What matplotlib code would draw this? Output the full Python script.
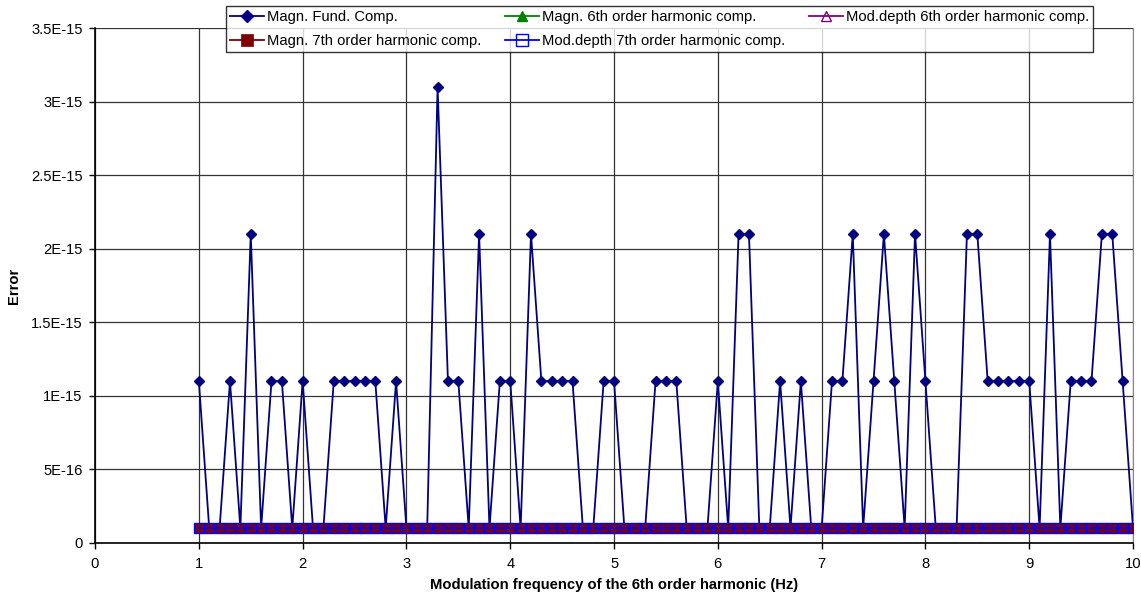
import matplotlib.pyplot as plt
from matplotlib.ticker import FixedLocator, FixedFormatter

plt.rcParams['font.family'] = ['Liberation Sans', 'DejaVu Sans']

# modulation frequency, 1.0 .. 10.0 Hz in 0.1 steps
freq = [round(1 + 0.1 * i, 1) for i in range(91)]

# error of the fundamental magnitude
fund = [
    1.1e-15, 1e-16, 1e-16, 1.1e-15, 1e-16, 2.1e-15, 1e-16, 1.1e-15, 1.1e-15, 1e-16,   # 1.0-1.9
    1.1e-15, 1e-16, 1e-16, 1.1e-15, 1.1e-15, 1.1e-15, 1.1e-15, 1.1e-15, 1e-16, 1.1e-15,  # 2.0-2.9
    1e-16, 1e-16, 1e-16, 3.1e-15, 1.1e-15, 1.1e-15, 1e-16, 2.1e-15, 1e-16, 1.1e-15,  # 3.0-3.9
    1.1e-15, 1e-16, 2.1e-15, 1.1e-15, 1.1e-15, 1.1e-15, 1.1e-15, 1e-16, 1e-16, 1.1e-15,  # 4.0-4.9
    1.1e-15, 1e-16, 1e-16, 1e-16, 1.1e-15, 1.1e-15, 1.1e-15, 1e-16, 1e-16, 1e-16,  # 5.0-5.9
    1.1e-15, 1e-16, 2.1e-15, 2.1e-15, 1e-16, 1e-16, 1.1e-15, 1e-16, 1.1e-15, 1e-16,  # 6.0-6.9
    1e-16, 1.1e-15, 1.1e-15, 2.1e-15, 1e-16, 1.1e-15, 2.1e-15, 1.1e-15, 1e-16, 2.1e-15,  # 7.0-7.9
    1.1e-15, 1e-16, 1e-16, 1e-16, 2.1e-15, 2.1e-15, 1.1e-15, 1.1e-15, 1.1e-15, 1.1e-15,  # 8.0-8.9
    1.1e-15, 1e-16, 2.1e-15, 1e-16, 1.1e-15, 1.1e-15, 1.1e-15, 2.1e-15, 2.1e-15, 1.1e-15,  # 9.0-9.9
    1e-16,  # 10.0
]
# the harmonic components all sit on the same floor
magn6 = [1e-16] * 91
moddepth6 = [1e-16] * 91
magn7 = [1e-16] * 91
moddepth7 = [1e-16] * 91

labels = ["Magn. Fund. Comp.", "Magn. 6th order harmonic comp.",
          "Mod.depth 6th order harmonic comp.", "Magn. 7th order harmonic comp.",
          "Mod.depth 7th order harmonic comp."]

y_ticks = [0, 5e-16, 1e-15, 1.5e-15, 2e-15, 2.5e-15, 3e-15, 3.5e-15]
y_tick_labels = ["0", "5E-16", "1E-15", "1.5E-15", "2E-15", "2.5E-15", "3E-15", "3.5E-15"]
x_ticks = list(range(0, 11))

fs = 10.6

fig = plt.figure(figsize=(11.41, 5.98), dpi=100)
ax = fig.add_axes([0.0833, 0.092, 0.9097, 0.861])

h_fund, = ax.plot(freq, fund, color='#000080', lw=1.3, marker='D', ms=5.5,
                  mfc='#000080', mec='#000080', zorder=3)
h_m6, = ax.plot(freq, magn6, color='#008000', lw=1.3, marker='^', ms=6,
                mfc='#008000', mec='#008000', zorder=4)
h_d6, = ax.plot(freq, moddepth6, color='#800080', lw=1.3, marker='^', ms=6,
                mfc='none', mec='#800080', zorder=5)
h_m7, = ax.plot(freq, magn7, color='#800000', lw=1.3, marker='s', ms=6.8,
                mfc='#800000', mec='#800000', mew=0.5, zorder=6)
h_d7, = ax.plot(freq, moddepth7, color='#0000ff', lw=1.3, marker='s', ms=6.8,
                mfc='none', mec='#0000ff', mew=1.0, zorder=7)

ax.set_xlim(0, 10)
ax.set_ylim(0, 3.5e-15)
ax.xaxis.set_major_locator(FixedLocator(x_ticks))
ax.yaxis.set_major_locator(FixedLocator(y_ticks))
ax.yaxis.set_major_formatter(FixedFormatter(y_tick_labels))
ax.tick_params(axis='both', direction='out', length=4, width=1, labelsize=fs,
               colors='black', pad=5)
ax.tick_params(axis='x', pad=6)

ax.grid(True, color='#333333', lw=0.9)
ax.set_axisbelow(True)
for side in ['left', 'bottom']:
    ax.spines[side].set_color('black')
    ax.spines[side].set_linewidth(1.2)
ax.spines['top'].set_visible(False)
ax.spines['right'].set_color('#888888')

ax.set_xlabel("Modulation frequency of the 6th order harmonic (Hz)",
              fontsize=fs, fontweight='bold', labelpad=5)
ax.set_ylabel("Error", fontsize=fs, fontweight='bold')
ax.yaxis.set_label_coords(-0.071, 0.5)

# legend, filled column by column so the rows read like the original
handles = [h_fund, h_m7, h_m6, h_d7, h_d6]
names = [labels[0], labels[3], labels[1], labels[4], labels[2]]
leg = fig.legend(handles, names, ncol=3, loc='upper left',
                 bbox_to_anchor=(226 / 1141, 1 - 6 / 598), fontsize=fs,
                 frameon=True, fancybox=False, edgecolor='black',
                 borderpad=0.3, labelspacing=0.65, handlelength=2.3,
                 handletextpad=0.2, columnspacing=1.6, borderaxespad=0,
                 markerscale=1.2)
leg.get_frame().set_linewidth(1.0)

fig.savefig("out.png", dpi=100)
